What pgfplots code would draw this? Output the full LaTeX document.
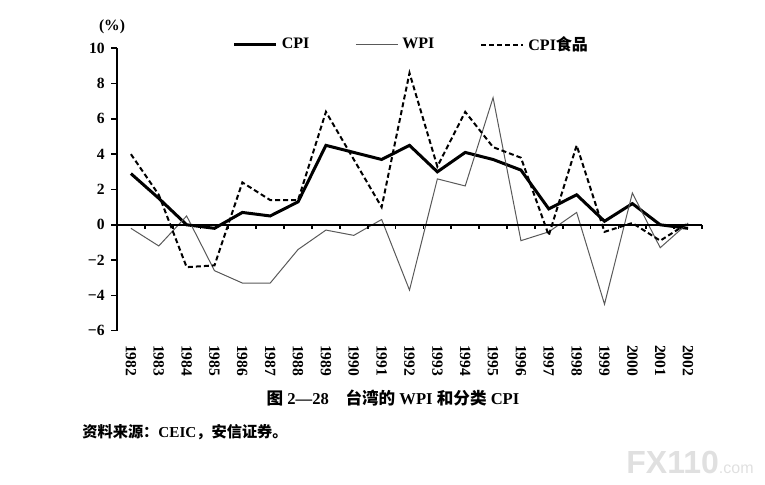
\documentclass[border=0pt]{standalone}
\usepackage{pgfplots}
\pgfplotsset{compat=1.18}
\usepackage{fontspec}
\setmainfont{Liberation Serif}
\newfontfamily\cjk{Noto Sans CJK SC}
\newfontfamily\wm{Liberation Sans}
\begin{document}
\begin{tikzpicture}
\useasboundingbox (0,0) rectangle (382.5pt,242.5pt);
\begin{axis}[
  at={(58.5pt,77.15pt)}, anchor=south west,
  scale only axis, width=292.5pt, height=141.2pt,
  xmin=-0.5, xmax=20.5, ymin=-6, ymax=10,
  axis y line*=left, axis x line*=bottom,
  x axis line style={draw=none},
  y axis line style={line width=1pt, -},
  xtick={0,...,20},
  xticklabels={1982,1983,1984,1985,1986,1987,1988,1989,1990,1991,1992,1993,1994,1995,1996,1997,1998,1999,2000,2001,2002},
  xtick style={draw=none},
  ytick={-6,-4,-2,0,2,4,6,8,10},
  yticklabels={−6,−4,−2,0,2,4,6,8,10},
  ytick style={line width=0.8pt, black},
  tick align=outside, major tick length=3pt,
  yticklabel style={font=\fontsize{7.8}{8}\selectfont\bfseries, inner sep=1.5pt, xshift=-1.5pt},
  xticklabel style={rotate=-90, anchor=west, font=\fontsize{7.8}{8}\selectfont\bfseries, inner xsep=4pt},
  legend columns=3,
  legend style={at={(0.505,1.012)}, anchor=center, draw=none, fill=none,
    font=\fontsize{8}{8}\selectfont\bfseries,
    /tikz/every even column/.append style={column sep=21pt},
    inner sep=0pt},
  legend cell align=left,
  legend image code/.code={\draw[#1] (0pt,0pt) -- (21pt,0pt);},
  clip=false,
]
\addplot[black, line width=1.5pt] coordinates {
(0,2.9) (1,1.5) (2,0.0) (3,-0.2) (4,0.7) (5,0.5) (6,1.3) (7,4.5) (8,4.1) (9,3.7)
(10,4.5) (11,3.0) (12,4.1) (13,3.7) (14,3.1) (15,0.9) (16,1.7) (17,0.2) (18,1.2) (19,0.0) (20,-0.2)};
\addlegendentry{CPI}
\addplot[black!65, line width=0.5pt] coordinates {
(0,-0.2) (1,-1.2) (2,0.5) (3,-2.6) (4,-3.3) (5,-3.3) (6,-1.4) (7,-0.3) (8,-0.6) (9,0.3)
(10,-3.7) (11,2.6) (12,2.2) (13,7.2) (14,-0.9) (15,-0.4) (16,0.7) (17,-4.5) (18,1.8) (19,-1.3) (20,0.1)};
\addlegendentry{WPI}
\addplot[black, line width=1pt, dash pattern=on 2.5pt off 1.5pt] coordinates {
(0,4.0) (1,1.7) (2,-2.4) (3,-2.3) (4,2.4) (5,1.4) (6,1.4) (7,6.4) (8,3.7) (9,1.0)
(10,8.6) (11,3.3) (12,6.4) (13,4.4) (14,3.8) (15,-0.6) (16,4.5) (17,-0.4) (18,0.1) (19,-0.9) (20,0.1)};
\addlegendentry{CPI{\cjk\bfseries 食品}}
\draw[line width=1pt] (axis cs:-0.5,0) -- (axis cs:20.5,0);
\pgfplotsinvokeforeach{0.5,1.5,...,20.5}{
  \draw[line width=0.8pt] (axis cs:#1,0) -- ([yshift=-2.2pt]axis cs:#1,0);
}
\end{axis}
\node[font=\fontsize{7.8}{8}\selectfont\bfseries] at (56pt,229pt) {(\%)};
\node[font=\fontsize{8.3}{9}\selectfont\bfseries] at (196.5pt,43.5pt) {{\cjk\bfseries 图} 2—28\quad {\cjk\bfseries 台湾的} WPI {\cjk\bfseries 和分类} CPI};
\node[anchor=west, inner sep=0pt, font=\fontsize{7.6}{8}\selectfont\bfseries] at (41pt,26.5pt) {{\cjk\bfseries 资料来源：}CEIC{\cjk\bfseries ，安信证券。}};
\node[anchor=east, inner sep=0pt, text=black!12] at (377pt,11.5pt) {{\wm\bfseries\fontsize{16}{16}\selectfont FX110}{\wm\fontsize{8}{8}\selectfont .com}};
\end{tikzpicture}
\end{document}
